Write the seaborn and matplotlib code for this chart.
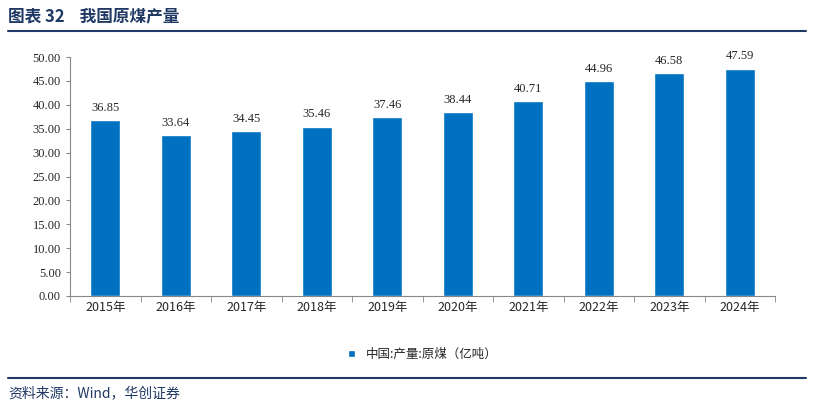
import matplotlib
matplotlib.use("Agg")
import matplotlib.pyplot as plt
import seaborn as sns
import pandas as pd

years = ["2015年","2016年","2017年","2018年","2019年","2020年","2021年","2022年","2023年","2024年"]
values = [36.85,33.64,34.45,35.46,37.46,38.44,40.71,44.96,46.58,47.59]
series = "中国:产量:原煤（亿吨）"

sns.set_style("white")
plt.rcParams['font.family'] = ['Noto Sans CJK SC', 'DejaVu Sans']

df = pd.DataFrame({"year": years, "value": values, "s": series})
fig = plt.figure(figsize=(8.14, 4.08), dpi=100)
ax = fig.add_axes([70/814, 1-296/408, 705/814, 239/408])
sns.barplot(data=df, x="year", y="value", hue="s", palette=["#0070C0"], width=0.43, ax=ax, saturation=1)
ax.set_ylim(0, 50)
ax.set_yticks([i*5 for i in range(11)])
ax.set_yticklabels([f"{i*5:.2f}" for i in range(11)], fontsize=9, family=['Liberation Serif'])
ax.set_xticks(range(len(years)))
ax.set_xticklabels(years, fontsize=9, family=['Noto Sans CJK SC'])
for i, v in enumerate(values):
    ax.text(i, v + 1.3, f"{v:.2f}", ha="center", va="bottom", fontsize=9, family=['Liberation Serif'])
ax.set_xlabel(""); ax.set_ylabel("")
for s in ["top", "right"]:
    ax.spines[s].set_visible(False)
for s in ["left", "bottom"]:
    ax.spines[s].set_color("#888888")
ax.tick_params(axis="both", length=3, color="#888888", direction="out", bottom=True, left=True)
ax.set_xticks([i+0.5 for i in range(-1, len(years))], minor=True)
ax.tick_params(axis="x", which="major", length=0)
ax.tick_params(axis="x", which="minor", length=4, color="#888888", bottom=True)
leg = ax.legend(loc="upper center", bbox_to_anchor=(0.5, -0.17), frameon=False, fontsize=9,
                handlelength=0.6, handleheight=0.6)

fig.text(8/814, 1-16/408, "图表 32    我国原煤产量", fontsize=12, fontweight="bold", color="#1F3864", va="center")
fig.add_artist(plt.Line2D([8/814, 806/814], [1-31/408]*2, color="#1F3864", lw=1.5))
fig.add_artist(plt.Line2D([8/814, 806/814], [1-378/408]*2, color="#1F3864", lw=1.5))
fig.text(8/814, 1-393/408, "资料来源：Wind，华创证券", fontsize=10, style="italic", color="#1F3864", va="center")
fig.savefig("out.png", dpi=100)
